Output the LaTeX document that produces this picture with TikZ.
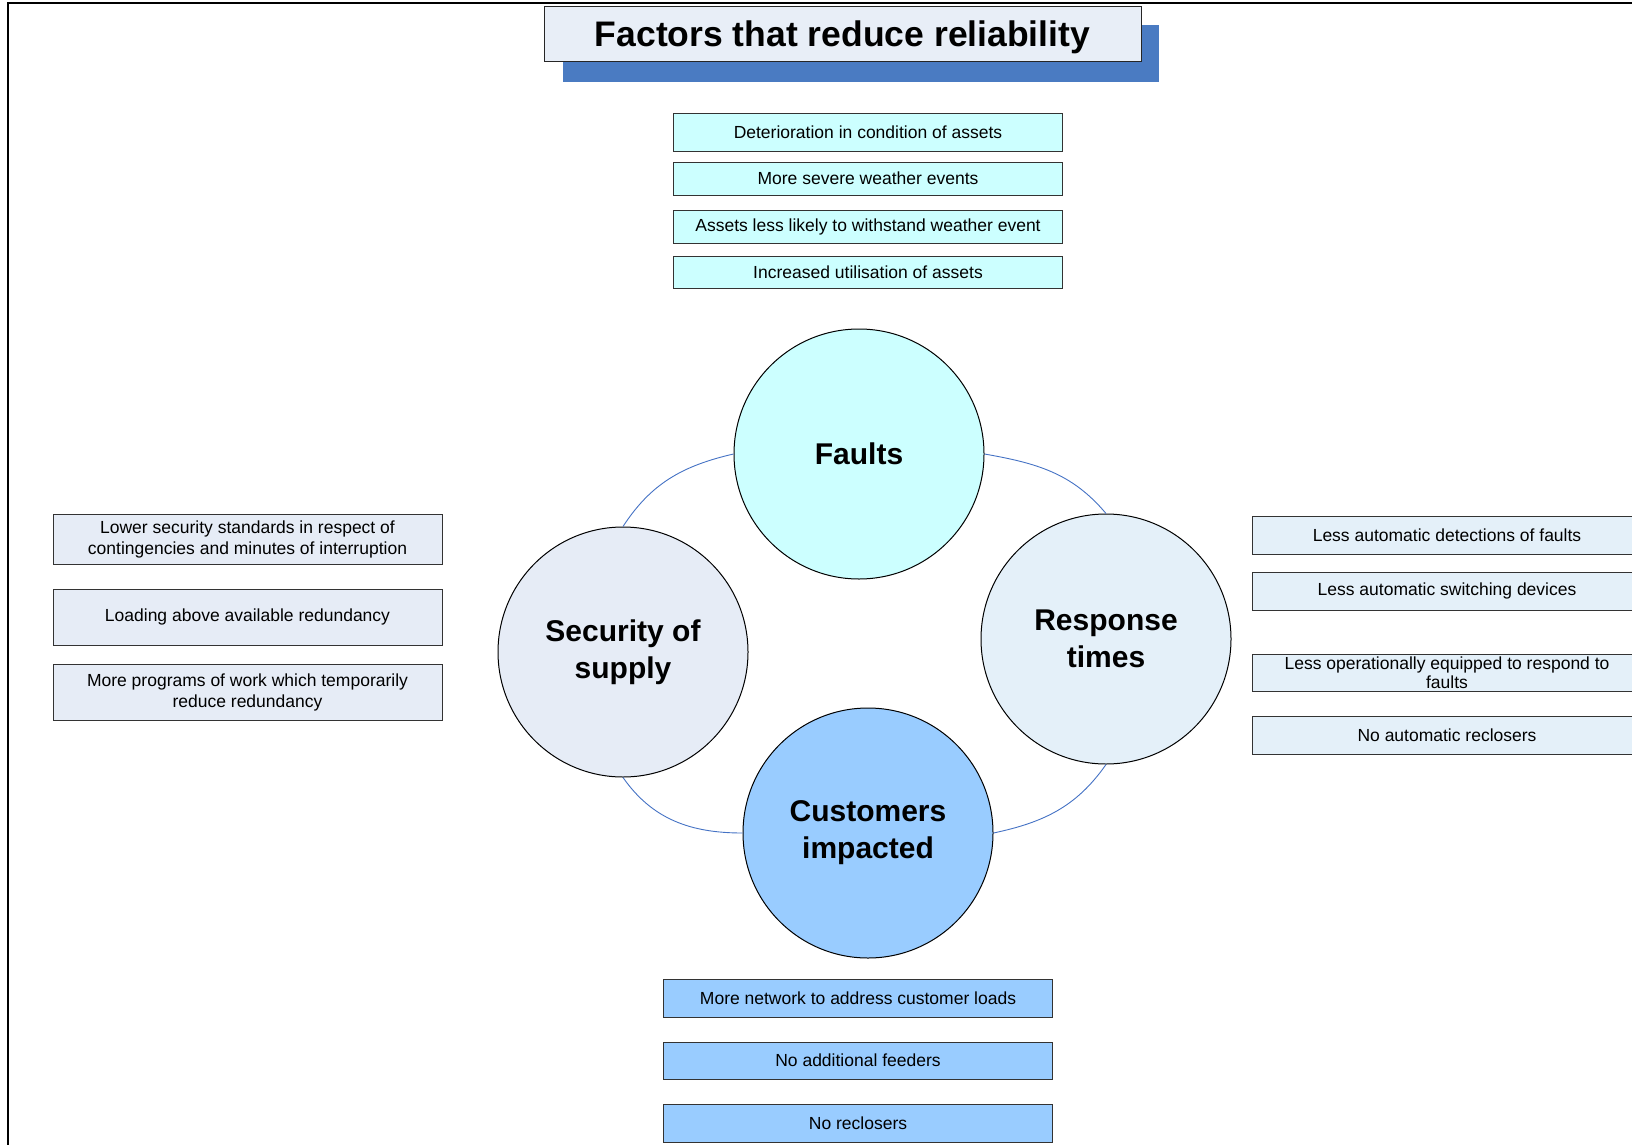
\documentclass[tikz,border=0pt]{standalone}
\usepackage{fontspec}
\setmainfont{Liberation Sans}
\usepackage{xcolor}
\definecolor{faultcyan}{HTML}{CCFFFF}
\definecolor{secgrey}{HTML}{E6ECF6}
\definecolor{respblue}{HTML}{E4F0F9}
\definecolor{custblue}{HTML}{99CCFF}
\definecolor{linkblue}{HTML}{4472C4}
\definecolor{shadowblue}{HTML}{4A7BC2}
\definecolor{titlefill}{HTML}{E8EEF7}

\begin{document}
\begin{tikzpicture}[x=1pt, y=-1pt,
  box/.style={draw=black!80, line width=0.8pt, align=center, inner sep=1pt, minimum width=389pt, font=\fontsize{17.5}{21}\selectfont},
  faultbox/.style={box, fill=faultcyan},
  secbox/.style={box, fill=secgrey},
  respbox/.style={box, fill=respblue},
  custbox/.style={box, fill=custblue},
  hub/.style={circle, draw=black, line width=1pt, minimum size=250pt, inner sep=0pt, align=center, font=\fontsize{30}{37}\selectfont\bfseries},
  link/.style={draw=linkblue, line width=0.9pt}
]
\useasboundingbox (0,0) rectangle (1632,1145);
% frame of the page
\draw[line width=2pt] (8,1146) -- (8,3) -- (1633,3);

% title
\node[fill=shadowblue, minimum width=596pt, minimum height=57pt, inner sep=0pt] (titleshadow) at (861,53.5) {};
\node[draw=black!85, line width=1pt, fill=titlefill, minimum width=597pt, minimum height=55pt, inner sep=0pt,
  text height=31pt, text depth=6pt, font=\fontsize{35.5}{40}\selectfont\bfseries] (title) at (842.5,34.5) {Factors that reduce reliability};

% the four hubs
\node[hub, fill=faultcyan] (faults) at (859,454) {Faults};
\node[hub, fill=secgrey] (security) at (623,652) {Security of\\supply};
\node[hub, fill=respblue] (response) at (1106,639) {Response\\times};
\node[hub, fill=custblue] (customers) at (868,833) {Customers\\impacted};

\draw[link] (faults.west) to[out=193, in=57] (security.north);
\draw[link] (faults.east) to[out=-10, in=130] (response.north);
\draw[link] (security.south) to[out=-55, in=180] (customers.west);
\draw[link] (customers.east) to[out=12, in=-125] (response.south);

% faults
\node[faultbox, minimum height=38pt] (deterioration) at (868,132) {Deterioration in condition of assets};
\node[faultbox, minimum height=33pt] (weather) at (868,178.5) {More severe weather events};
\node[faultbox, minimum height=33pt] (withstand) at (868,226.5) {Assets less likely to withstand weather event};
\node[faultbox, minimum height=32pt] (utilisation) at (868,272) {Increased utilisation of assets};

% security of supply
\node[secbox, minimum height=50pt] (standards) at (247.5,539) {Lower security standards in respect of\\contingencies and minutes of interruption};
\node[secbox, minimum height=56pt] (loading) at (247.5,617) {Loading above available redundancy};
\node[secbox, minimum height=56pt] (programs) at (247.5,692) {More programs of work which temporarily\\reduce redundancy};

% response times
\node[respbox, minimum height=38pt] (detection) at (1447,535) {Less automatic detections of faults};
\node[respbox, minimum height=38pt] (switching) at (1447,591) {Less automatic switching devices};
\node[respbox, minimum height=37pt, inner sep=0pt, font=\fontsize{17.5}{19}\selectfont] (equipped) at (1447,672.5) {Less operationally equipped to respond to\\faults};
\node[respbox, minimum height=38pt] (autoreclosers) at (1447,735) {No automatic reclosers};

% customers impacted
\node[custbox, minimum height=38pt] (network) at (858,998) {More network to address customer loads};
\node[custbox, minimum height=37pt] (feeders) at (858,1060.5) {No additional feeders};
\node[custbox, minimum height=38pt] (reclosers) at (858,1123) {No reclosers};
\end{tikzpicture}
\end{document}
